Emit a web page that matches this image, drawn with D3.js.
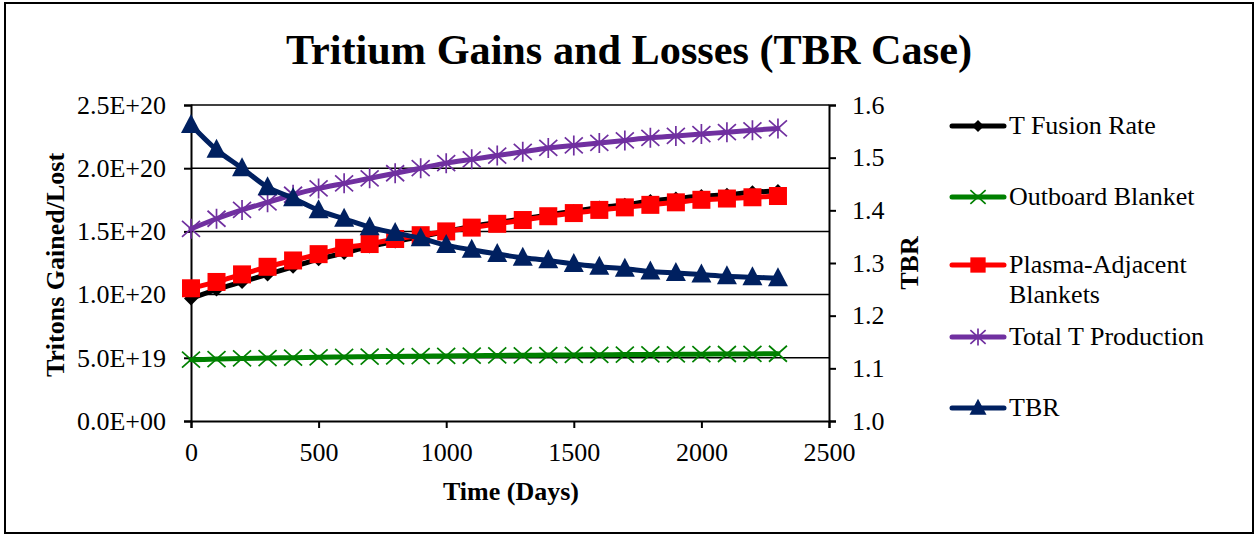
<!DOCTYPE html>
<html>
<head>
<meta charset="utf-8">
<script src="https://cdn.jsdelivr.net/npm/d3@7"></script>
<style>
  html, body { margin: 0; padding: 0; background: #fff; }
  svg { display: block; }
  text { font-family: "Liberation Serif", "Times New Roman", serif; }
</style>
</head>
<body>
<svg id="chart" width="1259" height="535"></svg>
<script>
// Time axis (days)
const days = [0,100,200,300,400,500,600,700,800,900,1000,1100,1200,1300,1400,1500,1600,1700,1800,1900,2000,2100,2200,2300];

// Primary axis series (tritons gained/lost)
const tFusionRate = [0.97e20,1.04e20,1.10e20,1.16e20,1.22e20,1.28e20,1.33e20,1.38e20,1.42e20,1.46e20,1.50e20,1.54e20,1.57e20,1.60e20,1.63e20,1.66e20,1.69e20,1.71e20,1.74e20,1.76e20,1.78e20,1.79e20,1.81e20,1.82e20];
const outboardBlanket = [4.85e19,4.90e19,4.95e19,4.98e19,5.01e19,5.04e19,5.07e19,5.09e19,5.11e19,5.13e19,5.15e19,5.17e19,5.19e19,5.20e19,5.22e19,5.23e19,5.24e19,5.26e19,5.27e19,5.28e19,5.29e19,5.30e19,5.31e19,5.32e19];
const plasmaAdjacent = [1.05e20,1.10e20,1.16e20,1.22e20,1.27e20,1.32e20,1.37e20,1.40e20,1.44e20,1.47e20,1.50e20,1.53e20,1.56e20,1.59e20,1.62e20,1.645e20,1.67e20,1.69e20,1.71e20,1.73e20,1.75e20,1.76e20,1.77e20,1.78e20];
const totalTProduction = [1.52e20,1.60e20,1.67e20,1.73e20,1.79e20,1.84e20,1.88e20,1.92e20,1.96e20,2.00e20,2.04e20,2.07e20,2.10e20,2.13e20,2.16e20,2.18e20,2.20e20,2.22e20,2.24e20,2.255e20,2.27e20,2.285e20,2.30e20,2.315e20];

// Secondary axis series
const tbr = [1.562,1.515,1.480,1.444,1.423,1.400,1.384,1.368,1.357,1.347,1.334,1.325,1.317,1.310,1.305,1.298,1.293,1.289,1.284,1.281,1.278,1.275,1.273,1.271];

// Tick values
const xTicks = [0,500,1000,1500,2000,2500];
const yLeftTicks = [0,5e19,1e20,1.5e20,2e20,2.5e20];
const yLeftLabels = ["0.0E+00","5.0E+19","1.0E+20","1.5E+20","2.0E+20","2.5E+20"];
const yRightTicks = [1.0,1.1,1.2,1.3,1.4,1.5,1.6];

const seriesNames = ["T Fusion Rate","Outboard Blanket","Plasma-Adjacent Blankets","Total T Production","TBR"];

const FONT = "Liberation Serif, Times New Roman, serif";
const svg = d3.select("#chart");
const plot = { left: 191, right: 829, top: 105, bottom: 421 };

const x = d3.scaleLinear().domain([0, 2500]).range([plot.left, plot.right]);
const yL = d3.scaleLinear().domain([0, 2.5e20]).range([plot.bottom, plot.top]);
const yR = d3.scaleLinear().domain([1.0, 1.6]).range([plot.bottom, plot.top]);

// Outer frame
svg.append("rect").attr("x", 5).attr("y", 3).attr("width", 1248).attr("height", 530)
  .attr("fill", "#fff").attr("stroke", "#000").attr("stroke-width", 2);

// Title
svg.append("text").attr("x", 629).attr("y", 64).attr("text-anchor", "middle")
  .attr("font-family", FONT).attr("font-size", 42).attr("font-weight", "bold")
  .attr("textLength", 686).attr("lengthAdjust", "spacingAndGlyphs")
  .text("Tritium Gains and Losses (TBR Case)");

// Horizontal gridlines
svg.append("g").selectAll("line").data(yLeftTicks.filter(d => d > 0)).join("line")
  .attr("x1", plot.left).attr("x2", plot.right)
  .attr("y1", d => yL(d)).attr("y2", d => yL(d))
  .attr("stroke", "#000").attr("stroke-width", 1.5);

// Axes
const axisStyle = g => {
  g.attr("font-family", FONT).attr("font-size", 26);
  g.select(".domain").attr("stroke", "#000").attr("stroke-width", 2);
  g.selectAll(".tick line").attr("stroke", "#000").attr("stroke-width", 2);
  g.selectAll(".tick text").attr("fill", "#000");
};

svg.append("g").attr("transform", `translate(0,${plot.bottom})`)
  .call(d3.axisBottom(x).tickValues(xTicks).tickFormat(d3.format("d")).tickSizeOuter(0).tickSize(7).tickPadding(15))
  .call(axisStyle);

svg.append("g").attr("transform", `translate(${plot.left},0)`)
  .call(d3.axisLeft(yL).tickValues(yLeftTicks).tickFormat((d, i) => yLeftLabels[i]).tickSizeOuter(0).tickSize(7).tickPadding(18))
  .call(axisStyle);

svg.append("g").attr("transform", `translate(${plot.right},0)`)
  .call(d3.axisRight(yR).tickValues(yRightTicks).tickFormat(d3.format(".1f")).tickSizeOuter(0).tickSize(7).tickPadding(16))
  .call(axisStyle);

// Axis titles
svg.append("text").attr("x", 511).attr("y", 500).attr("text-anchor", "middle")
  .attr("font-family", FONT).attr("font-size", 26).attr("font-weight", "bold").text("Time (Days)");
svg.append("text").attr("transform", "translate(64,265) rotate(-90)").attr("text-anchor", "middle")
  .attr("font-family", FONT).attr("font-size", 26).attr("font-weight", "bold").text("Tritons Gained/Lost");
svg.append("text").attr("transform", "translate(918,263) rotate(-90)").attr("text-anchor", "middle")
  .attr("font-family", FONT).attr("font-size", 26).attr("font-weight", "bold").text("TBR");

// Marker painters
function marker(g, type, color, k = 1) {
  if (type === "diamond") {
    g.append("path").attr("d", `M0,${-7*k}L${7*k},0L0,${7*k}L${-7*k},0Z`).attr("fill", color);
  } else if (type === "square") {
    g.append("rect").attr("x", -9*k).attr("y", -9*k).attr("width", 18*k).attr("height", 18*k).attr("fill", color);
  } else if (type === "triangle") {
    g.append("path").attr("d", `M0,${-11*k}L${10*k},${8*k}L${-10*k},${8*k}Z`).attr("fill", color);
  } else if (type === "x") {
    g.append("path").attr("d", `M${-9*k},${-8*k}L${9*k},${8*k}M${-9*k},${8*k}L${9*k},${-8*k}`)
      .attr("stroke", color).attr("stroke-width", 1.7).attr("fill", "none");
  } else if (type === "star") {
    g.append("path").attr("d", `M${-9*k},${-8*k}L${9*k},${8*k}M${-9*k},${8*k}L${9*k},${-8*k}M0,${-10*k}L0,${10*k}`)
      .attr("stroke", color).attr("stroke-width", 1.7).attr("fill", "none");
  }
}

const series = [
  { name: seriesNames[0], values: tFusionRate, y: yL, color: "#000000", type: "diamond" },
  { name: seriesNames[1], values: outboardBlanket, y: yL, color: "#008000", type: "x" },
  { name: seriesNames[2], values: plasmaAdjacent, y: yL, color: "#FF0000", type: "square" },
  { name: seriesNames[3], values: totalTProduction, y: yL, color: "#7030A0", type: "star" },
  { name: seriesNames[4], values: tbr, y: yR, color: "#002060", type: "triangle" }
];

series.forEach(s => {
  const g = svg.append("g");
  const line = d3.line().x((d, i) => x(days[i])).y(d => s.y(d)).curve(d3.curveMonotoneX);
  g.append("path").datum(s.values).attr("d", line)
    .attr("fill", "none").attr("stroke", s.color).attr("stroke-width", 5)
    .attr("stroke-linejoin", "round").attr("stroke-linecap", "round");
  s.values.forEach((v, i) => {
    marker(g.append("g").attr("transform", `translate(${x(days[i])},${s.y(v)})`), s.type, s.color);
  });
});

// Legend
const legendRows = [
  { s: series[0], y: 126, lines: ["T Fusion Rate"] },
  { s: series[1], y: 197, lines: ["Outboard Blanket"] },
  { s: series[2], y: 265, lines: ["Plasma-Adjacent", "Blankets"] },
  { s: series[3], y: 337, lines: ["Total T Production"] },
  { s: series[4], y: 408, lines: ["TBR"] }
];
legendRows.forEach(r => {
  const g = svg.append("g");
  g.append("line").attr("x1", 952).attr("x2", 1004).attr("y1", r.y).attr("y2", r.y)
    .attr("stroke", r.s.color).attr("stroke-width", 5).attr("stroke-linecap", "round");
  marker(g.append("g").attr("transform", `translate(978,${r.y})`), r.s.type, r.s.color, 0.85);
  r.lines.forEach((t, k) => {
    g.append("text").attr("x", 1009).attr("y", r.y + 8 + k * 30)
      .attr("font-family", FONT).attr("font-size", 26).attr("fill", "#000").text(t);
  });
});
</script>
</body>
</html>
